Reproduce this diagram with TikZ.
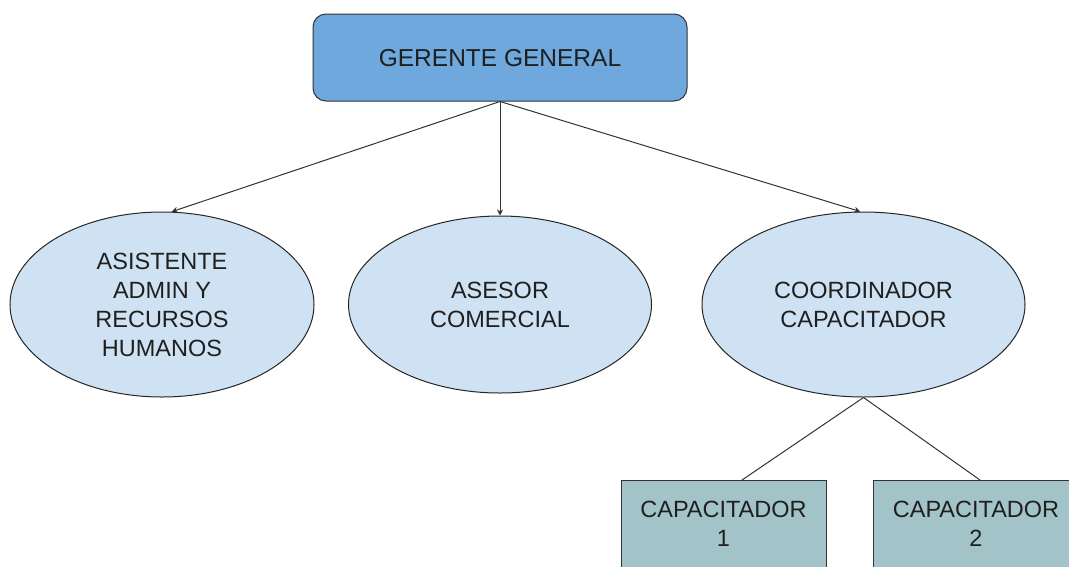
\documentclass[tikz,border=0pt]{standalone}
\usepackage{fontspec}
\setmainfont{Liberation Sans}
\usetikzlibrary{shapes.geometric,arrows.meta}
\definecolor{topblue}{HTML}{6FA8DC}
\definecolor{lightblue}{HTML}{CFE2F3}
\definecolor{teal}{HTML}{A2C4C9}
\definecolor{edgegray}{HTML}{333333}
\definecolor{txt}{HTML}{1F1F1F}
\tikzset{
  x=1pt, y=-1pt,
  every node/.style={text=txt, font=\fontsize{23.5}{29}\selectfont},
  topbox/.style={draw=edgegray, line width=1pt, fill=topblue, rounded corners=13pt,
    minimum width=374pt, minimum height=87pt, inner sep=0pt, font=\fontsize{24.5}{29}\selectfont},
  role/.style={ellipse, draw=black!85, line width=1pt, fill=lightblue, inner sep=0pt, align=center},
  capbox/.style={draw=edgegray, line width=1pt, fill=teal, minimum height=140pt, inner sep=0pt},
  captext/.style={align=center, anchor=north, inner sep=0pt},
  link/.style={draw=edgegray, line width=1pt},
  arr/.style={link, -{Stealth[length=6pt,width=6pt]}}
}
\begin{document}
\begin{tikzpicture}
\clip (0,0) rectangle (1069,566);
\fill[white] (0,0) rectangle (1069,566);
\node[topbox, text depth=-2pt] (gg) at (500,57.5) {GERENTE GENERAL};
\node[role, minimum width=304pt, minimum height=185pt] (as) at (162,304.5) {ASISTENTE\\ADMIN Y\\RECURSOS\\HUMANOS};
\node[role, minimum width=303pt, minimum height=177pt] (ac) at (500,304.5) {ASESOR\\COMERCIAL};
\node[role, minimum width=323pt, minimum height=185pt] (cc) at (863.5,304.5) {COORDINADOR\\CAPACITADOR};
\node[capbox, minimum width=205pt, anchor=north, label={[captext, yshift=-21pt]north:CAPACITADOR\\1}] (c1) at (723.5,480) {};
\node[capbox, minimum width=225pt, anchor=north, label={[captext, yshift=-21pt, xshift=-10pt]north:CAPACITADOR\\2}] (c2) at (986,480) {};
\draw[arr] (gg.south) -- (as.84);
\draw[arr] (gg.south) -- (ac.north);
\draw[arr] (gg.south) -- (cc.92);
\draw[link] (cc.south) -- ([xshift=18.5pt]c1.north);
\draw[link] (cc.south) -- ([xshift=-6pt]c2.north);
\end{tikzpicture}
\end{document}
